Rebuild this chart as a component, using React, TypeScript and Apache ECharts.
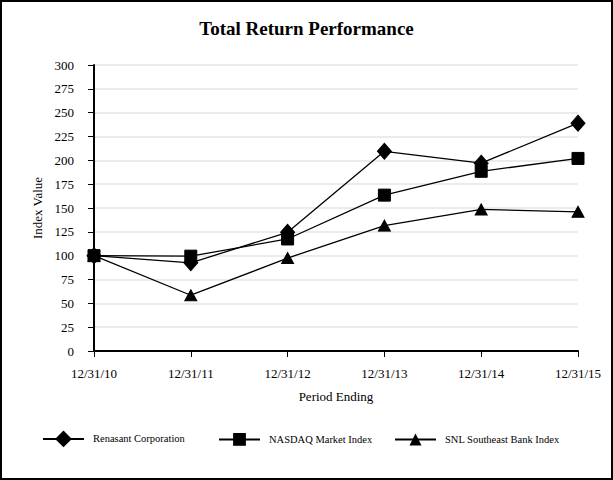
import React, { useEffect, useRef } from "react";
import * as echarts from "echarts";

const categories = ["12/31/10", "12/31/11", "12/31/12", "12/31/13", "12/31/14", "12/31/15"];
const renasant = [100, 92.5, 124.5, 209.5, 197, 239];
const nasdaq = [100, 99.5, 117.5, 163.5, 188.5, 202];
const snl = [100, 58.5, 97.5, 131.5, 148.5, 146];
const seriesNames = ["Renasant Corporation", "NASDAQ Market Index", "SNL Southeast Bank Index"];

const FONT = "'Liberation Serif', 'Times New Roman', serif";

export default function App() {
  const ref = useRef<HTMLDivElement>(null);
  useEffect(() => {
    if (!ref.current) return;
    const chart = echarts.init(ref.current, null, { renderer: "svg" });
    const mk = (name: string, data: number[], symbol: string, size: number | number[]) => ({
      name,
      type: "line",
      data,
      symbol,
      symbolSize: size,
      showAllSymbol: true,
      lineStyle: { color: "#000", width: 1.3 },
      itemStyle: { color: "#000", borderColor: "#000" },
      emphasis: { disabled: true },
    });
    const legendLefts = [35, 211, 387];
    const legendHeights = [21, 16, 15];
    chart.setOption({
      animation: false,
      backgroundColor: "#fff",
      textStyle: { fontFamily: FONT, color: "#000" },
      title: {
        text: "Total Return Performance",
        left: "center",
        top: 12,
        textStyle: { fontFamily: FONT, fontSize: 19, fontWeight: "bold", color: "#000" },
      },
      grid: { left: 92, right: 33, top: 63, bottom: 127, containLabel: false },
      xAxis: {
        type: "category",
        data: categories,
        boundaryGap: false,
        name: "Period Ending",
        nameLocation: "middle",
        nameGap: 39,
        nameTextStyle: { fontFamily: FONT, fontSize: 13, color: "#000" },
        axisLine: { lineStyle: { color: "#000", width: 2 } },
        axisTick: { show: true, length: 6, lineStyle: { color: "#000", width: 1 } },
        axisLabel: { fontFamily: FONT, fontSize: 13, color: "#000", margin: 16 },
        splitLine: { show: false },
      },
      yAxis: {
        type: "value",
        min: 0,
        max: 300,
        interval: 25,
        name: "Index Value",
        nameLocation: "middle",
        nameGap: 48,
        nameRotate: 90,
        nameTextStyle: { fontFamily: FONT, fontSize: 13, color: "#000" },
        axisLine: { show: true, lineStyle: { color: "#000", width: 2 } },
        axisTick: { show: true, length: 6, lineStyle: { color: "#000", width: 1 } },
        axisLabel: { fontFamily: FONT, fontSize: 13, color: "#000", margin: 20 },
        splitLine: { show: true, lineStyle: { color: "#e4e4e4", width: 1.5 } },
      },
      legend: seriesNames.map((n, i) => ({
        left: legendLefts[i],
        top: 434 - legendHeights[i] / 2,
        itemWidth: 41,
        itemHeight: legendHeights[i],
        itemGap: 0,
        textStyle: { fontFamily: FONT, fontSize: 10.5, color: "#000", padding: [0, 0, 0, 4] },
        data: [n],
      })),
      series: [
        mk(seriesNames[0], renasant, "diamond", [14, 16]),
        mk(seriesNames[1], nasdaq, "rect", 12),
        mk(seriesNames[2], snl, "triangle", [12, 11]),
      ],
    });
    return () => chart.dispose();
  }, []);
  return (
    <div
      ref={ref}
      style={{
        position: "fixed",
        left: 0,
        top: 0,
        width: 613,
        height: 480,
        boxSizing: "border-box",
        border: "2px solid #000",
        background: "#fff",
      }}
    />
  );
}
